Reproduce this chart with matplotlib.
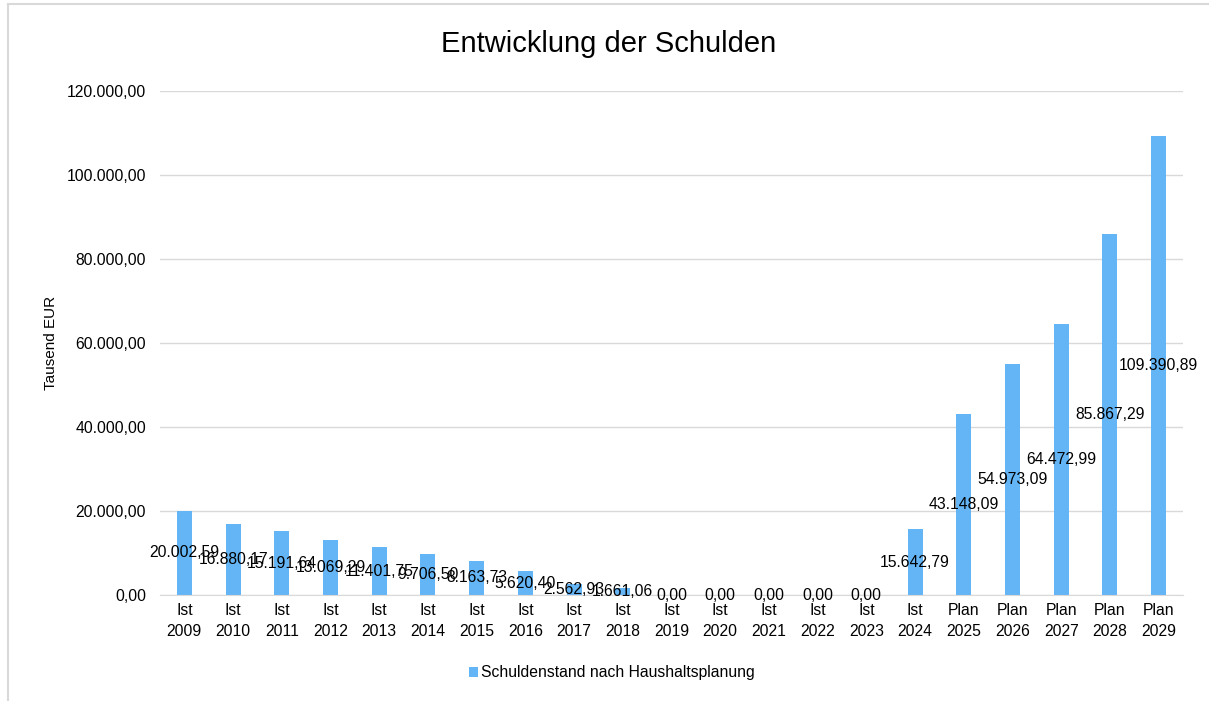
import matplotlib.pyplot as plt
from matplotlib.lines import Line2D
from matplotlib.ticker import FuncFormatter

plt.rcParams["font.family"] = ["Liberation Sans", "DejaVu Sans"]

# Daten (Tausend EUR)
status = ["Ist"] * 16 + ["Plan"] * 5
jahre = list(range(2009, 2030))
schulden = [
    20002.59, 16880.17, 15191.64, 13069.29, 11401.75, 9706.50, 8163.73,
    5620.40, 2562.93, 1661.06, 0.00, 0.00, 0.00, 0.00, 0.00,
    15642.79, 43148.09, 54973.09, 64472.99, 85867.29, 109390.89,
]
kategorien = [f"{s}\n{j}" for s, j in zip(status, jahre)]


def de_format(v, pos=None):
    s = f"{v:,.2f}"
    return s.replace(",", "X").replace(".", ",").replace("X", ".")


fig = plt.figure(figsize=(12.09, 7.01), dpi=100)
ax = fig.add_axes([160 / 1209, 1 - 595 / 701, 1023 / 1209, 504 / 701])

x = range(len(kategorien))
bars = ax.bar(x, schulden, width=0.31, color="#64B5F6",
              label="Schuldenstand nach Haushaltsplanung", zorder=2)
ax.bar_label(bars, labels=[de_format(v) for v in schulden],
             label_type="center", fontsize=11.3, color="#000000", zorder=3)

ax.set_xlim(-0.5, len(kategorien) - 0.5)
ax.set_ylim(0, 120000)
ax.set_yticks(range(0, 120001, 20000))
ax.yaxis.set_major_formatter(FuncFormatter(de_format))
ax.set_xticks(list(x))
ax.set_xticklabels(kategorien, fontsize=11.3, linespacing=1.45)
ax.tick_params(axis="y", labelsize=11.3, length=0, pad=10)
ax.tick_params(axis="x", length=0, pad=6)
ax.grid(axis="y", color="#D9D9D9", linewidth=1, zorder=0)
for s in ["top", "right", "left"]:
    ax.spines[s].set_visible(False)
ax.spines["bottom"].set_color("#D9D9D9")

ax.set_ylabel("Tausend EUR", fontsize=11, labelpad=6)
fig.text(0.503, 1 - 44 / 701, "Entwicklung der Schulden",
         ha="center", va="center", fontsize=21)

fig.legend(handles=[bars], loc="center", bbox_to_anchor=(612 / 1209, 1 - 673 / 701),
           frameon=False, fontsize=11.3, handlelength=0.6, handleheight=0.6,
           handletextpad=0.2)

# Rahmen nur links und oben sichtbar
fig.add_artist(Line2D([8 / 1209, 8 / 1209], [0, 1 - 4 / 701],
                      transform=fig.transFigure, color="#D9D9D9", linewidth=1.5))
fig.add_artist(Line2D([8 / 1209, 1], [1 - 4 / 701, 1 - 4 / 701],
                      transform=fig.transFigure, color="#D9D9D9", linewidth=1.5))

fig.savefig("out.png", dpi=100)
